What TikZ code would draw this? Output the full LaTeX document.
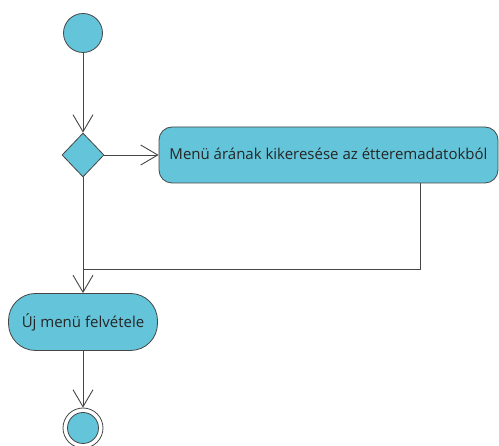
\documentclass[tikz,border=0pt]{standalone}
\usepackage{fontspec}
\setmainfont{Open Sans}
\usetikzlibrary{arrows.meta,shapes.geometric,positioning}
\definecolor{fillc}{RGB}{100,196,217}
\definecolor{linec}{RGB}{70,70,70}
\begin{document}
\begin{tikzpicture}[x=1pt,y=-1pt,
  every node/.style={font=\fontsize{15}{17}\selectfont,text=black!85},
  flow/.style={draw=linec,line width=0.9pt,-{Straight Barb[length=17pt,width=20pt,line width=0.9pt]}},
  plain/.style={draw=linec,line width=0.9pt},
  actbox/.style={draw=linec,fill=fillc,line width=0.8pt,rounded corners=13pt,minimum width=339pt,minimum height=56pt,inner sep=0pt},
  stad/.style={draw=linec,fill=fillc,line width=0.8pt,rounded corners=27pt,minimum width=149pt,minimum height=57pt,inner sep=0pt},
  startc/.style={circle,draw=linec,fill=fillc,line width=0.8pt,minimum size=39pt,inner sep=0pt},
  dec/.style={diamond,draw=linec,fill=fillc,line width=0.8pt,minimum width=42pt,minimum height=44pt,inner sep=0pt,aspect=1},
  finalouter/.style={circle,draw=linec,line width=0.8pt,minimum size=40pt,inner sep=0pt},
  finalinner/.style={circle,draw=linec,fill=fillc,line width=0.8pt,minimum size=31pt,inner sep=0pt}]
\useasboundingbox (0,0) rectangle (499,446);
\node[startc] (start) at (83,33) {};
\node[dec] (d) at (83,155) {};
\node[actbox] (a1) at (328.5,155) {\raisebox{1.5pt}{Menü árának kikeresése az étteremadatokból}};
\node[stad] (a2) at (83,322) {Új menü felvétele};
\node[finalouter] (fin) at (83,428) {};
\node[finalinner] (fini) at (83,428) {};
\coordinate (j) at (83,269);
\coordinate (c1) at (420,269);
\draw[flow] (start) -- (d);
\draw[flow] (d) -- (a1);
\draw[plain] (a1.south -| c1) -- (c1) -- (j);
\draw[flow] (d) -- (a2);
\draw[flow] (a2) -- (fin);
\end{tikzpicture}
\end{document}
